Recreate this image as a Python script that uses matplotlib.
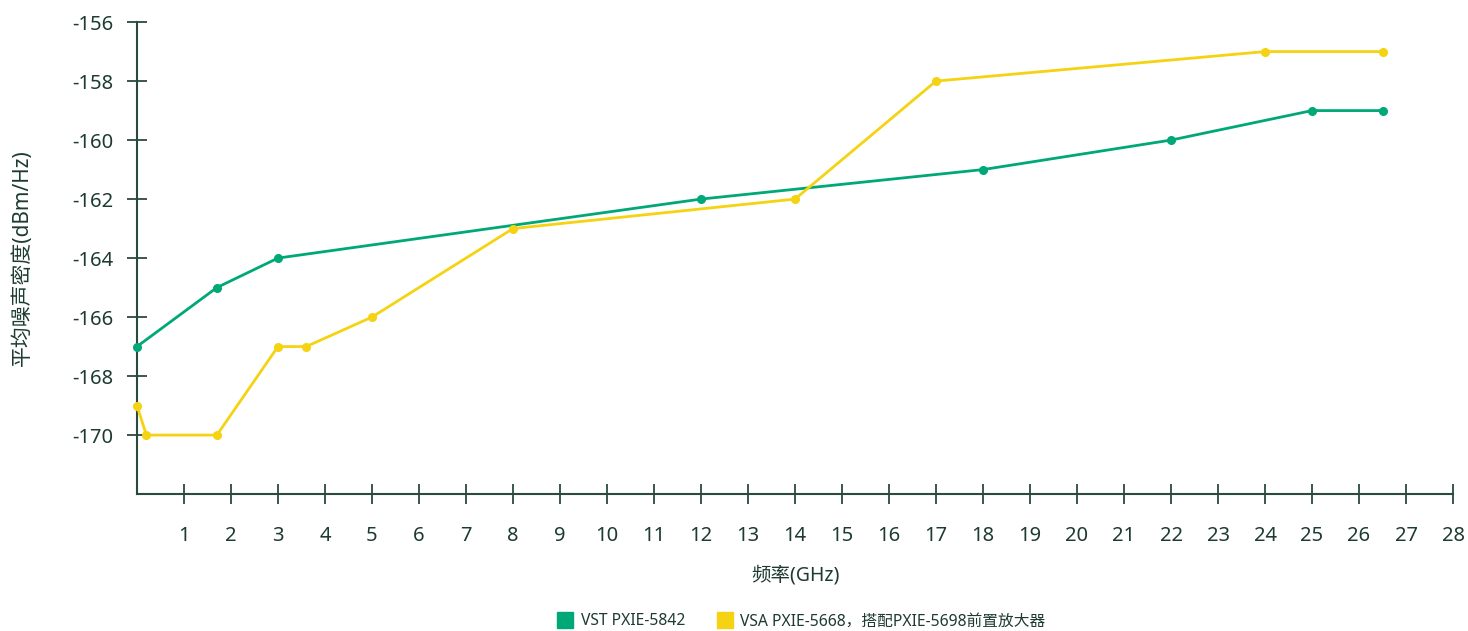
import matplotlib.pyplot as plt
from matplotlib.lines import Line2D

plt.rcParams['font.family'] = ['Noto Sans', 'Noto Sans CJK SC', 'DejaVu Sans']
plt.rcParams['axes.unicode_minus'] = False

# 频率 (GHz) 与平均噪声密度 (dBm/Hz)
vst_freq = [0, 1.7, 3, 12, 18, 22, 25, 26.5]
vst_dan = [-167, -165, -164, -162, -161, -160, -159, -159]

vsa_freq = [0, 0.2, 1.7, 3, 3.6, 5, 8, 14, 17, 24, 26.5]
vsa_dan = [-169, -170, -170, -167, -167, -166, -163, -162, -158, -157, -157]

series_names = ['VST PXIE-5842', 'VSA PXIE-5668，搭配PXIE-5698前置放大器']
colors = ['#00a878', '#f5d312']

x_ticks = list(range(1, 29))
y_ticks = list(range(-170, -155, 2))

axis_color = '#2b4a3f'
text_color = '#1d3b31'

fig = plt.figure(figsize=(14.68, 6.31), dpi=100)
ax = fig.add_axes([0.0933, 0.217, 0.8965, 0.748])

ax.plot(vst_freq, vst_dan, color=colors[0], lw=2, marker='o', ms=5.5, clip_on=False, zorder=3)
ax.plot(vsa_freq, vsa_dan, color=colors[1], lw=2, marker='o', ms=5.5, clip_on=False, zorder=3)

ax.set_xlim(0, 28)
ax.set_ylim(-172, -156)
ax.set_xticks(x_ticks)
ax.set_yticks(y_ticks)

for s in ['top', 'right']:
    ax.spines[s].set_visible(False)
for s in ['left', 'bottom']:
    ax.spines[s].set_color(axis_color)
    ax.spines[s].set_linewidth(1.5)

ax.tick_params(axis='x', direction='inout', length=14, width=1.3, color=axis_color,
               labelcolor=text_color, labelsize=14.5, pad=16)
ax.tick_params(axis='y', direction='inout', length=14, width=1.3, color=axis_color,
               labelcolor=text_color, labelsize=14.5, pad=10)

ax.set_xlabel('频率(GHz)', fontsize=14, color=text_color, labelpad=14)
ax.set_ylabel('平均噪声密度(dBm/Hz)', fontsize=15, color=text_color, labelpad=28)

handles = [Line2D([], [], ls='none', marker='s', ms=11, color=c) for c in colors]
fig.legend(handles, series_names, loc='lower center', bbox_to_anchor=(0.546, -0.02), ncol=2,
           frameon=False, fontsize=11.3, labelcolor=text_color, handletextpad=0.5,
           columnspacing=2.0, handlelength=1.0)

fig.savefig('out.png', dpi=100)
